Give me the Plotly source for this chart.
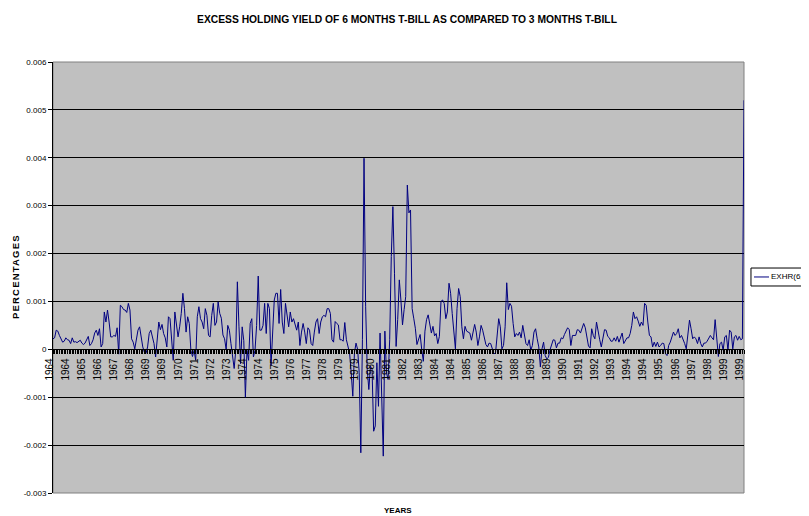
import plotly.graph_objects as go

# Monthly excess holding yield EXHR(6,3), Jan 1964 .. Dec 1999 (one row per year)
exhr = [
    2.2e-4, 2.4e-4, 4.0e-4, 3.8e-4, 2.9e-4, 2.0e-4, 1.5e-4, 1.7e-4, 2.4e-4, 2.0e-4, 1.9e-4, 1.2e-4,
    2.4e-4, 1.5e-4, 1.6e-4, 1.4e-4, 1.7e-4, 1.9e-4, 1.3e-4, 1.0e-4, 1.3e-4, 2.0e-4, 2.7e-4, 0.8e-4,
    1.2e-4, 2.0e-4, 3.4e-4, 4.0e-4, 2.9e-4, 4.3e-4, 0.5e-4, 1.2e-4, 7.8e-4, 5.7e-4, 8.2e-4, 5.7e-4,
    2.6e-4, 2.6e-4, 2.9e-4, 2.7e-4, 4.5e-4, -1.0e-4, 9.2e-4, 8.9e-4, 8.3e-4, 8.2e-4, 7.7e-4, 9.6e-4,
    8.2e-4, 2.2e-4, 1.5e-4, 0.1e-4, 1.9e-4, 4.0e-4, 4.7e-4, 2.2e-4, 0.5e-4, -0.6e-4, -0.9e-4, 0.5e-4,
    3.3e-4, 4.0e-4, 2.6e-4, 1.2e-4, -1.6e-4, 1.5e-4, 5.7e-4, 4.1e-4, 5.2e-4, 3.3e-4, 2.4e-4, 0.5e-4,
    6.8e-4, 6.4e-4, 1.5e-4, -2.3e-4, 7.8e-4, 5.4e-4, 2.6e-4, 4.7e-4, 7.5e-4, 11.7e-4, 8.5e-4, 3.6e-4,
    6.8e-4, 5.4e-4, -0.2e-4, -1.5e-4, -0.2e-4, -2.3e-4, 6.8e-4, 8.9e-4, 6.4e-4, 5.7e-4, 4.3e-4, 8.5e-4,
    7.1e-4, 2.9e-4, 2.6e-4, 7.1e-4, 9.6e-4, 5.0e-4, 5.7e-4, 9.9e-4, 7.5e-4, 6.5e-4, 3.0e-4, 2.2e-4,
    0.0e-4, 5.0e-4, 4.0e-4, 1.2e-4, -0.9e-4, -4.0e-4, -0.2e-4, 14.1e-4, 4.7e-4, -3.0e-4, 4.7e-4, 1.8e-4,
    -10.0e-4, -0.2e-4, -2.3e-4, 5.4e-4, 6.4e-4, -1.6e-4, -0.2e-4, 5.0e-4, 15.3e-4, 4.0e-4, 4.0e-4, 5.0e-4,
    9.6e-4, 3.3e-4, 9.6e-4, 8.5e-4, -3.4e-4, 4.0e-4, 10.3e-4, 11.7e-4, 11.7e-4, 5.4e-4, 12.5e-4, 5.7e-4,
    3.3e-4, 9.6e-4, 6.8e-4, 4.7e-4, 7.8e-4, 5.7e-4, 6.4e-4, 5.4e-4, 4.0e-4, 5.7e-4, 0.8e-4, 3.6e-4,
    5.4e-4, 3.6e-4, 1.2e-4, 4.5e-4, 4.0e-4, 1.2e-4, 0.8e-4, 3.6e-4, 5.7e-4, 6.4e-4, 3.3e-4, 5.7e-4,
    6.8e-4, 7.1e-4, 6.8e-4, 8.5e-4, 8.5e-4, 7.5e-4, 2.0e-4, 1.5e-4, 5.8e-4, 5.4e-4, 5.1e-4, 2.0e-4,
    2.0e-4, 1.7e-4, 5.6e-4, 2.0e-4, 0.3e-4, -0.8e-4, -4.9e-4, -9.8e-4, -0.8e-4, 1.3e-4, 0.0e-4, -4.9e-4,
    -21.6e-4, 2.0e-4, 39.9e-4, 9.0e-4, -4.2e-4, -8.4e-4, -3.5e-4, -4.2e-4, -17.1e-4, -16.0e-4, -2.8e-4, -11.9e-4,
    3.4e-4, -11.9e-4, -22.3e-4, 3.8e-4, -4.9e-4, -6.3e-4, 2.0e-4, 19.4e-4, 29.8e-4, 15.9e-4, 0.6e-4, 6.2e-4,
    14.5e-4, 10.3e-4, 5.1e-4, 8.3e-4, 11.0e-4, 34.3e-4, 28.5e-4, 29.1e-4, 8.5e-4, 6.5e-4, 4.4e-4, 1.0e-4,
    2.0e-4, 3.1e-4, -0.1e-4, -2.5e-4, 3.8e-4, 6.2e-4, 7.2e-4, 5.1e-4, 3.4e-4, 4.8e-4, 2.8e-4, 3.3e-4,
    1.2e-4, 2.7e-4, 10.0e-4, 10.3e-4, 9.6e-4, 6.4e-4, 7.8e-4, 13.8e-4, 11.7e-4, 7.5e-4, 3.6e-4, 0.1e-4,
    8.5e-4, 12.7e-4, 11.0e-4, 4.7e-4, 2.2e-4, 4.8e-4, 3.8e-4, 3.6e-4, 3.4e-4, 1.9e-4, 3.3e-4, 5.2e-4,
    3.6e-4, 0.8e-4, 2.6e-4, 5.0e-4, 4.0e-4, 2.4e-4, 1.0e-4, 0.5e-4, 1.3e-4, 1.2e-4, -0.1e-4, -0.9e-4,
    -0.8e-4, 2.4e-4, 6.4e-4, 4.7e-4, 0.1e-4, 0.8e-4, 4.7e-4, 13.9e-4, 8.3e-4, 9.6e-4, 9.0e-4, 5.4e-4,
    2.6e-4, 3.3e-4, 2.9e-4, 3.6e-4, 2.4e-4, 5.0e-4, 2.6e-4, 1.2e-4, 0.8e-4, 2.0e-4, -0.2e-4, 0.8e-4,
    3.6e-4, 4.3e-4, 2.2e-4, 0.5e-4, -3.7e-4, 0.1e-4, 1.5e-4, -1.3e-4, -2.0e-4, -1.7e-4, -0.1e-4, 0.8e-4,
    2.0e-4, 1.9e-4, 0.3e-4, 1.3e-4, 1.3e-4, 2.4e-4, 2.2e-4, 3.1e-4, 3.8e-4, 4.5e-4, 4.1e-4, 0.8e-4,
    2.9e-4, 2.9e-4, 2.9e-4, 4.1e-4, 4.0e-4, 3.4e-4, 4.3e-4, 5.4e-4, 4.5e-4, 2.2e-4, 0.7e-4, 0.3e-4,
    4.3e-4, 2.9e-4, 2.2e-4, 5.7e-4, 3.3e-4, 2.0e-4, 0.5e-4, 2.6e-4, 4.1e-4, 4.0e-4, 2.7e-4, 2.4e-4,
    1.7e-4, 1.7e-4, 2.4e-4, 1.7e-4, 2.7e-4, 1.5e-4, 2.7e-4, 3.4e-4, 1.2e-4, 1.9e-4, 2.4e-4, 2.4e-4,
    3.3e-4, 5.0e-4, 7.8e-4, 6.4e-4, 6.8e-4, 5.9e-4, 4.8e-4, 5.7e-4, 5.0e-4, 9.6e-4, 9.2e-4, 5.7e-4,
    2.9e-4, 2.6e-4, 0.5e-4, 1.5e-4, 0.6e-4, 1.5e-4, 0.5e-4, 0.8e-4, 1.3e-4, 1.2e-4, -0.9e-4, -1.3e-4,
    0.8e-4, 1.5e-4, 2.6e-4, 3.6e-4, 2.9e-4, 3.3e-4, 4.3e-4, 2.4e-4, 2.9e-4, 2.2e-4, 1.2e-4, 0.1e-4,
    3.3e-4, 6.1e-4, 4.3e-4, 2.2e-4, 2.6e-4, 2.2e-4, 1.2e-4, 2.6e-4, 1.2e-4, 0.5e-4, 1.3e-4, 1.3e-4,
    1.7e-4, 2.2e-4, 2.9e-4, 2.4e-4, 2.0e-4, 6.2e-4, 2.4e-4, -1.5e-4, 1.2e-4, 1.5e-4, -0.2e-4, 2.6e-4,
    2.9e-4, -0.2e-4, 4.0e-4, 3.6e-4, 0.1e-4, 2.6e-4, 2.9e-4, 1.9e-4, 2.7e-4, 2.0e-4, 2.2e-4, 52.0e-4,
]

# Category-axis labels (one shown every 10th month)
year_labels = [
    "1964", "1964", "1965", "1966", "1967", "1968", "1969", "1969", "1970", "1971", "1972",
    "1973", "1974", "1974", "1975", "1976", "1977", "1978", "1979", "1979", "1980", "1981",
    "1982", "1983", "1984", "1984", "1985", "1986", "1987", "1988", "1989", "1989", "1990",
    "1991", "1992", "1993", "1994", "1994", "1995", "1996", "1997", "1998", "1999", "1999",
]
label_every = 10

y_tickvals = [0.006, 0.005, 0.004, 0.003, 0.002, 0.001, 0.0, -0.001, -0.002, -0.003]
y_ticktext = ["0.006", "0.005", "0.004", "0.003", "0.002", "0.001", "0", "-0.001", "-0.002", "-0.003"]
y_min, y_max = -0.003, 0.006

series_name = "EXHR(6,3)"
title_text = "EXCESS HOLDING YIELD OF 6 MONTHS T-BILL AS COMPARED TO 3 MONTHS T-BILL"

FONT = "Liberation Sans, Arial, sans-serif"
x = list(range(len(exhr)))

# page body has an 8px default margin: figure is sized/offset to compensate
W, H = 801, 508
OFF = 8

fig = go.Figure()
fig.add_trace(go.Scatter(
    x=x, y=exhr, mode="lines", name=series_name, showlegend=False,
    line=dict(color="#000080", width=1),
))

zero_pos = (0 - y_min) / (y_max - y_min)

fig.update_layout(
    width=W, height=H,
    margin=dict(l=53 - OFF, r=809 - 744, t=62 - OFF, b=516 - 493, pad=0),
    plot_bgcolor="#C0C0C0", paper_bgcolor="white",
    font=dict(family=FONT, color="black"),
    title=dict(text="<b>" + title_text + "</b>", x=(407 - OFF) / W, xref="container", xanchor="center",
               y=1 - (19 - OFF) / H, yref="container", yanchor="middle",
               font=dict(family=FONT, size=10.3, color="black")),
    xaxis=dict(
        range=[0, len(exhr) - 1], anchor="free", position=zero_pos,
        showline=True, linecolor="black", linewidth=1,
        tickmode="array", tickvals=x[::label_every], ticktext=year_labels,
        ticks="outside", ticklen=4, tickcolor="black", tickwidth=1,
        tickangle=-90, tickfont=dict(family=FONT, size=10, color="black"),
        ticklabelshift=-3,
        showgrid=False, zeroline=False,
        minor=dict(tickmode="linear", tick0=0, dtick=1, ticks="outside", ticklen=4,
                   tickcolor="black", tickwidth=1, showgrid=False),
    ),
    yaxis=dict(
        range=[y_min, y_max], tickmode="array", tickvals=y_tickvals, ticktext=y_ticktext,
        ticks="outside", ticklen=4, tickcolor="black",
        showline=True, linecolor="black", linewidth=1,
        showgrid=True, gridcolor="black", gridwidth=1, zeroline=False,
        tickfont=dict(family=FONT, size=8, color="black"),
    ),
    shapes=[
        dict(type="rect", xref="paper", yref="paper", x0=0, x1=1, y0=0, y1=1,
             line=dict(color="#808080", width=1), layer="between"),
        # legend box
        dict(type="rect", xref="paper", yref="paper", x0=1.0101, x1=1.12, y0=0.4803, y1=0.522,
             line=dict(color="black", width=1), fillcolor="white", layer="above"),
        dict(type="line", xref="paper", yref="paper", x0=1.0145, x1=1.0362, y0=0.5012, y1=0.5012,
             line=dict(color="#000080", width=1), layer="above"),
    ],
    annotations=[
        dict(text=series_name, xref="paper", yref="paper", x=1.0365, y=0.5012,
             xanchor="left", yanchor="middle", showarrow=False,
             font=dict(family=FONT, size=8, color="black")),
        dict(text='<b><span style="letter-spacing:1.2px">PERCENTAGES</span></b>',
             xref="paper", yref="paper", x=(15 - 53) / 691, y=0.501,
             xanchor="center", yanchor="middle", textangle=-90, showarrow=False,
             font=dict(family=FONT, size=9.5, color="black")),
        dict(text="<b>YEARS</b>", xref="paper", yref="paper", x=(397.5 - 53) / 691, y=(493 - 511) / 431,
             xanchor="center", yanchor="middle", showarrow=False,
             font=dict(family=FONT, size=8, color="black")),
    ],
)

fig.write_html("out.html", config={"displayModeBar": False})
